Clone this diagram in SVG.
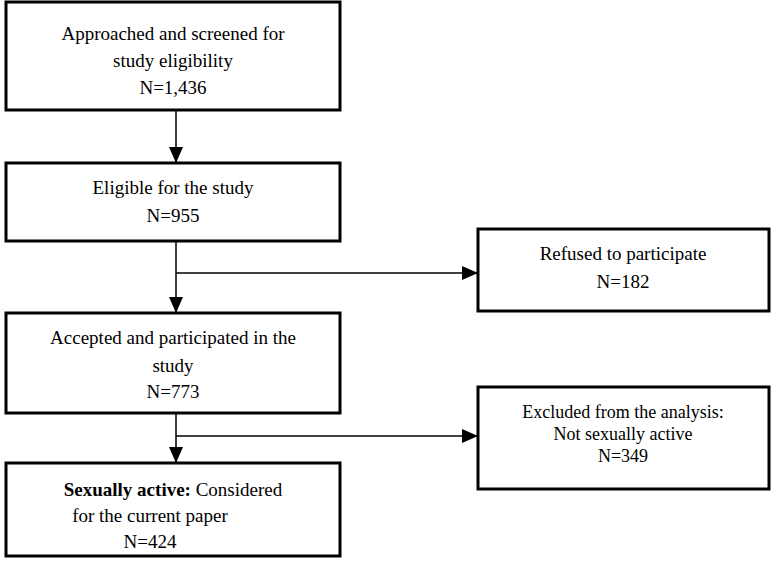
<svg xmlns="http://www.w3.org/2000/svg" width="772" height="568" viewBox="0 0 772 568">
<style>
.b{fill:#fff;stroke:#000;stroke-width:3}
.t{font-family:"Liberation Serif","Times New Roman","DejaVu Serif",serif;font-size:19px;text-anchor:middle;fill:#000}
.c{stroke:#000;stroke-width:1.5;fill:none}
</style>
<defs>
<marker id="a2" markerWidth="16" markerHeight="14" refX="15" refY="7" orient="auto" markerUnits="userSpaceOnUse"><path d="M0,0L16,7L0,14z" fill="#000"/></marker></defs>
<rect width="772" height="568" fill="#fff"/>
<g id="connectors">
<line class="c" x1="176" y1="110" x2="176" y2="162" marker-end="url(#a2)"/>
<line class="c" x1="176" y1="241" x2="176" y2="312" marker-end="url(#a2)"/>
<line class="c" x1="176" y1="273" x2="477" y2="273" marker-end="url(#a2)"/>
<line class="c" x1="176" y1="413" x2="176" y2="462" marker-end="url(#a2)"/>
<line class="c" x1="176" y1="436" x2="477" y2="436" marker-end="url(#a2)"/>
</g>
<g id="n1"><rect class="b" x="6" y="2" width="334" height="108"/>
<text class="t" x="173" y="40">Approached and screened for</text><text class="t" x="173" y="67">study eligibility</text><text class="t" x="173" y="94">N=1,436</text></g>
<g id="n2"><rect class="b" x="6" y="163" width="334" height="78"/>
<text class="t" x="173" y="194">Eligible for the study</text><text class="t" x="173" y="222">N=955</text></g>
<g id="n3"><rect class="b" x="478" y="229" width="291" height="82"/>
<text class="t" x="623" y="260">Refused to participate</text><text class="t" x="623" y="288">N=182</text></g>
<g id="n4"><rect class="b" x="6" y="313" width="334" height="100"/>
<text class="t" x="173" y="344">Accepted and participated in the</text><text class="t" x="173" y="372">study</text><text class="t" x="173" y="398">N=773</text></g>
<g id="n5"><rect class="b" x="478" y="387" width="291" height="102"/>
<text class="t" x="623" y="418" style="font-size:18px">Excluded from the analysis:</text><text class="t" x="623" y="440" style="font-size:18px">Not sexually active</text><text class="t" x="623" y="462" style="font-size:18px">N=349</text></g>
<g id="n6"><rect class="b" x="6" y="463" width="334" height="93"/>
<text class="t" x="173" y="496"><tspan font-weight="bold">Sexually active:</tspan> Considered</text><text class="t" x="150" y="522">for the current paper</text><text class="t" x="150" y="548">N=424</text></g>
</svg>
